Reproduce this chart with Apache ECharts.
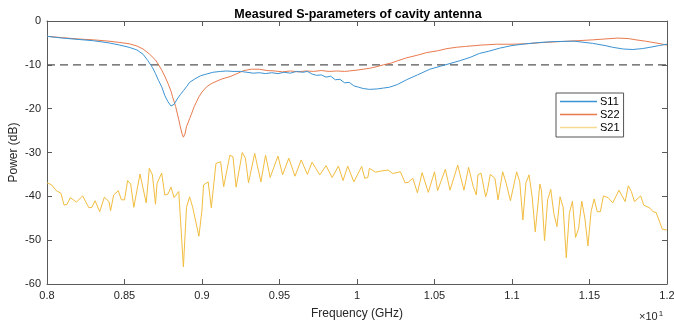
<!DOCTYPE html>
<html>
<head>
<meta charset="utf-8">
<script src="https://cdn.jsdelivr.net/npm/echarts@6/dist/echarts.min.js"></script>
<style>
  html, body { margin: 0; padding: 0; background: #fff; }
  #chart { width: 674px; height: 325px; }
</style>
</head>
<body>
<div id="chart"></div>
<script>
// S11
const s11Freq = [0.800, 0.810, 0.820, 0.830, 0.840, 0.847, 0.853, 0.858, 0.862, 0.865, 0.868, 0.870, 0.872, 0.874, 0.876, 0.878, 0.880, 0.882, 0.884, 0.886, 0.888, 0.890, 0.892, 0.895, 0.899, 0.903, 0.907, 0.912, 0.916, 0.920, 0.925, 0.929, 0.933, 0.937, 0.941, 0.945, 0.949, 0.953, 0.957, 0.961, 0.965, 0.968, 0.971, 0.974, 0.977, 0.980, 0.983, 0.986, 0.989, 0.992, 0.995, 0.998, 1.001, 1.004, 1.008, 1.013, 1.017, 1.021, 1.026, 1.032, 1.039, 1.047, 1.054, 1.060, 1.066, 1.073, 1.079, 1.085, 1.092, 1.100, 1.109, 1.118, 1.127, 1.140, 1.152, 1.160, 1.165, 1.172, 1.178, 1.184, 1.189, 1.195, 1.200];
const s11Db = [-3.5, -3.9, -4.2, -4.5, -5.0, -5.5, -6.0, -6.6, -7.6, -9.0, -10.6, -12.0, -13.6, -15.0, -17.0, -18.4, -19.4, -19.0, -17.8, -16.8, -15.9, -15.0, -14.0, -13.3, -12.5, -12.1, -11.7, -11.5, -11.4, -11.5, -11.5, -11.7, -11.9, -11.8, -12.0, -11.8, -12.0, -11.7, -11.9, -11.5, -11.7, -11.5, -12.1, -12.4, -12.3, -12.8, -12.6, -13.4, -13.3, -14.1, -14.0, -14.8, -15.1, -15.4, -15.6, -15.5, -15.3, -15.1, -14.5, -13.4, -12.3, -11.0, -10.3, -9.7, -9.1, -8.3, -7.4, -6.9, -6.2, -5.6, -5.2, -4.9, -4.7, -4.6, -5.1, -5.6, -6.0, -6.4, -6.5, -6.3, -6.0, -5.6, -5.3];

// S22
const s22Freq = [0.800, 0.810, 0.820, 0.830, 0.840, 0.847, 0.853, 0.858, 0.862, 0.866, 0.870, 0.872, 0.874, 0.876, 0.878, 0.880, 0.881, 0.883, 0.884, 0.885, 0.886, 0.887, 0.888, 0.889, 0.890, 0.892, 0.893, 0.895, 0.898, 0.900, 0.903, 0.906, 0.909, 0.913, 0.918, 0.922, 0.927, 0.932, 0.937, 0.942, 0.947, 0.952, 0.957, 0.962, 0.967, 0.972, 0.977, 0.982, 0.987, 0.992, 0.995, 1.000, 1.004, 1.008, 1.013, 1.017, 1.022, 1.026, 1.032, 1.039, 1.045, 1.052, 1.058, 1.064, 1.070, 1.080, 1.090, 1.100, 1.109, 1.120, 1.131, 1.142, 1.152, 1.160, 1.168, 1.175, 1.180, 1.186, 1.191, 1.196, 1.200];
const s22Db = [-3.5, -3.8, -4.1, -4.3, -4.6, -4.9, -5.2, -5.7, -6.4, -7.5, -8.9, -10.0, -11.2, -12.6, -14.2, -16.0, -17.3, -19.5, -21.0, -22.5, -24.1, -25.6, -26.5, -25.8, -24.1, -22.3, -21.4, -19.5, -17.3, -16.2, -15.0, -14.3, -13.8, -13.2, -12.7, -12.1, -11.3, -11.0, -11.0, -11.3, -11.4, -11.6, -11.4, -11.6, -11.4, -11.5, -11.3, -11.5, -11.4, -11.5, -11.4, -11.2, -11.0, -10.8, -10.4, -10.0, -9.6, -9.1, -8.4, -7.8, -7.2, -6.8, -6.3, -6.0, -5.8, -5.5, -5.3, -5.3, -5.2, -4.9, -4.7, -4.5, -4.3, -4.1, -3.9, -4.0, -4.3, -4.6, -4.9, -5.2, -5.5];

// S21
const s21Freq = [0.800, 0.803, 0.806, 0.809, 0.811, 0.813, 0.815, 0.819, 0.823, 0.827, 0.829, 0.831, 0.834, 0.835, 0.837, 0.840, 0.841, 0.843, 0.846, 0.848, 0.850, 0.852, 0.854, 0.856, 0.860, 0.864, 0.866, 0.868, 0.870, 0.871, 0.874, 0.876, 0.878, 0.880, 0.882, 0.885, 0.886, 0.888, 0.890, 0.892, 0.894, 0.898, 0.900, 0.901, 0.904, 0.906, 0.909, 0.912, 0.914, 0.918, 0.920, 0.922, 0.926, 0.928, 0.930, 0.934, 0.938, 0.941, 0.944, 0.949, 0.952, 0.956, 0.960, 0.964, 0.968, 0.971, 0.976, 0.980, 0.984, 0.988, 0.991, 0.994, 0.998, 1.003, 1.005, 1.007, 1.008, 1.012, 1.016, 1.020, 1.023, 1.028, 1.031, 1.033, 1.036, 1.039, 1.042, 1.046, 1.050, 1.052, 1.057, 1.060, 1.065, 1.069, 1.072, 1.075, 1.077, 1.078, 1.080, 1.083, 1.084, 1.086, 1.089, 1.091, 1.094, 1.096, 1.099, 1.103, 1.105, 1.107, 1.109, 1.111, 1.113, 1.115, 1.118, 1.119, 1.121, 1.123, 1.125, 1.127, 1.129, 1.131, 1.133, 1.135, 1.137, 1.139, 1.141, 1.143, 1.145, 1.147, 1.149, 1.151, 1.153, 1.155, 1.157, 1.159, 1.162, 1.165, 1.169, 1.173, 1.175, 1.177, 1.179, 1.183, 1.185, 1.189, 1.191, 1.193, 1.197, 1.200];
const s21Db = [-36.9, -37.4, -38.7, -39.3, -42.0, -41.8, -40.3, -41.3, -39.9, -42.6, -42.5, -41.0, -43.5, -43.9, -40.2, -41.2, -43.3, -39.7, -38.7, -40.8, -40.8, -36.4, -37.2, -42.5, -34.9, -41.5, -33.6, -35.1, -41.8, -37.0, -34.7, -39.7, -39.5, -37.9, -40.3, -38.9, -38.9, -56.1, -42.5, -40.1, -42.5, -49.1, -43.1, -37.4, -36.7, -42.6, -32.5, -32.1, -37.8, -30.6, -31.0, -37.9, -30.0, -31.3, -36.9, -30.2, -36.7, -30.6, -35.7, -30.8, -35.1, -31.3, -35.4, -31.7, -35.0, -32.2, -35.1, -33.0, -35.7, -33.1, -36.4, -33.1, -36.7, -33.2, -35.9, -35.7, -33.6, -34.5, -34.2, -34.0, -34.8, -34.4, -36.9, -36.8, -35.9, -39.2, -34.6, -39.1, -34.4, -38.7, -33.8, -38.6, -32.9, -38.6, -33.4, -37.8, -39.7, -35.1, -34.7, -40.1, -38.9, -35.0, -35.9, -40.8, -34.4, -36.7, -41.0, -34.4, -36.7, -45.4, -36.9, -35.1, -40.1, -48.1, -37.2, -38.6, -50.1, -40.8, -38.4, -43.9, -46.9, -40.1, -42.5, -54.0, -43.9, -41.1, -49.4, -47.3, -41.1, -45.0, -51.3, -43.5, -40.6, -43.5, -43.5, -39.9, -40.3, -41.5, -38.6, -41.2, -37.6, -38.9, -41.2, -39.9, -42.0, -42.7, -43.5, -43.7, -47.5, -47.7];

// -10 dB reference
const thresholdDb = -10;
const freqRange = [0.8, 1.2];

const FONT = '"Liberation Sans", Arial, Helvetica, sans-serif';
const AXIS_COLOR = '#5a5a5a';
const TEXT_COLOR = '#262626';

const zip = (xs, ys) => xs.map((x, i) => [x, ys[i]]);

const chart = echarts.init(document.getElementById('chart'), null, { renderer: 'canvas' });

// box axes, ticks pointing inward on all sides
const boxAxis = (extra) => Object.assign({
  axisLine: { show: true, onZero: false, lineStyle: { color: AXIS_COLOR, width: 1 } },
  axisTick: { show: true, inside: true, length: 5, lineStyle: { color: AXIS_COLOR } },
  splitLine: { show: false }
}, extra);

const option = {
  animation: false,
  backgroundColor: '#fff',
  textStyle: { fontFamily: FONT },
  title: {
    text: 'Measured S-parameters of cavity antenna',
    left: 353,
    top: 3,
    textAlign: 'center',
    textStyle: { fontFamily: FONT, fontSize: 12.5, fontWeight: 'bold', color: '#000' }
  },
  grid: { left: 47, right: 7, top: 21, bottom: 41, outerBoundsMode: 'none' },
  legend: {
    data: [
      { name: 'S11' },
      { name: 'S22' },
      { name: 'S21', itemStyle: { color: '#f7d98f' } }
    ],
    orient: 'vertical',
    left: 556,
    top: 93,
    padding: [3, 4, 4, 4],
    itemGap: 2,
    itemWidth: 37,
    itemHeight: 1.5,
    icon: 'rect',
    backgroundColor: '#fff',
    borderColor: '#555',
    borderWidth: 1,
    borderRadius: 0,
    textStyle: { fontFamily: FONT, fontSize: 11, color: '#000', padding: [0, 0, 0, -2] }
  },
  xAxis: [
    boxAxis({
      type: 'value',
      min: freqRange[0],
      max: freqRange[1],
      interval: 0.05,
      name: 'Frequency (GHz)',
      nameLocation: 'middle',
      nameGap: 24,
      nameMoveOverlap: false,
      nameTextStyle: { fontFamily: FONT, fontSize: 12, color: TEXT_COLOR },
      axisLabel: {
        fontFamily: FONT, fontSize: 11, color: TEXT_COLOR, margin: 6,
        formatter: (v) => String(+v.toFixed(2))
      }
    }),
    boxAxis({
      type: 'value', position: 'top', min: freqRange[0], max: freqRange[1], interval: 0.05,
      axisLabel: { show: false }
    })
  ],
  yAxis: [
    boxAxis({
      type: 'value',
      min: -60,
      max: 0,
      interval: 10,
      name: 'Power (dB)',
      nameLocation: 'middle',
      nameGap: 27,
      nameMoveOverlap: false,
      nameTextStyle: { fontFamily: FONT, fontSize: 12, color: TEXT_COLOR },
      axisLabel: { fontFamily: FONT, fontSize: 11, color: TEXT_COLOR, margin: 6 }
    }),
    boxAxis({
      type: 'value', position: 'right', min: -60, max: 0, interval: 10,
      axisLabel: { show: false }
    })
  ],
  graphic: [{
    type: 'text',
    left: 639,
    top: 310,
    style: {
      text: '{a|×10}{b|1}',
      rich: {
        a: { fontFamily: FONT, fontSize: 11, fill: TEXT_COLOR },
        b: { fontFamily: FONT, fontSize: 8, fill: TEXT_COLOR, verticalAlign: 'top', padding: [0, 0, 6, 1] }
      }
    }
  }],
  series: [
    {
      name: '-10 dB',
      type: 'line',
      data: [[freqRange[0], thresholdDb], [freqRange[1], thresholdDb]],
      symbol: 'none',
      silent: true,
      lineStyle: { color: '#555', width: 1.2, type: [8, 5] },
      z: 1
    },
    {
      name: 'S11',
      type: 'line',
      data: zip(s11Freq, s11Db),
      symbol: 'none',
      color: '#3b93d3',
      lineStyle: { width: 1 },
      z: 4
    },
    {
      name: 'S22',
      type: 'line',
      data: zip(s22Freq, s22Db),
      symbol: 'none',
      color: '#e87a4e',
      lineStyle: { width: 1 },
      z: 3
    },
    {
      name: 'S21',
      type: 'line',
      data: zip(s21Freq, s21Db),
      symbol: 'none',
      color: '#f2bd40',
      lineStyle: { width: 1 },
      z: 2
    }
  ]
};

chart.setOption(option);
</script>
</body>
</html>
